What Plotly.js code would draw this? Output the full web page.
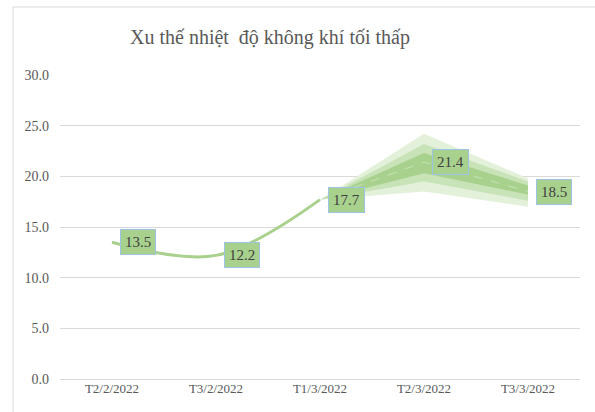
<!DOCTYPE html>
<html><head><meta charset="utf-8">
<script src="https://cdn.plot.ly/plotly-3.0.1.min.js"></script>
<style>html,body{margin:0;padding:0;background:#fff}#c{width:595px;height:412px}</style>
</head><body><div id="c"></div>
<script>
const categories = ['T2/2/2022','T3/2/2022','T1/3/2022','T2/3/2022','T3/3/2022'];
const values = [13.5, 12.2, 17.7, 21.4, 18.5];
const labels = ['13.5','12.2','17.7','21.4','18.5'];
const forecastCats = ['T1/3/2022','T2/3/2022','T3/3/2022'];
const forecastMid = [17.7, 21.4, 18.5];
const outerUpper = [17.7, 24.2, 19.8];
const outerLower = [17.7, 18.5, 17.0];
const midUpper = [17.7, 23.2, 19.5];
const midLower = [17.7, 19.5, 17.6];
const innerUpper = [17.7, 22.3, 19.1];
const innerLower = [17.7, 20.3, 18.2];
const histCats = categories.slice(0,3);
const histVals = values.slice(0,3);

const font = '"Liberation Serif", serif';
function band(up, lo, color){
  return [
    {x: forecastCats, y: up, type:'scatter', mode:'lines', line:{width:0, color:color}, hoverinfo:'skip', showlegend:false},
    {x: forecastCats, y: lo, type:'scatter', mode:'lines', line:{width:0, color:color}, fill:'tonexty', fillcolor:color, hoverinfo:'skip', showlegend:false}
  ];
}
const traces = [
  ...band(outerUpper, outerLower, '#e3f0da'),
  ...band(midUpper, midLower, '#c9e3b8'),
  ...band(innerUpper, innerLower, '#a9d18e'),
  {x: forecastCats, y: forecastMid, type:'scatter', mode:'lines', line:{width:1, color:'rgba(255,255,255,0.35)', dash:'dash'}, showlegend:false},
  {x: histCats, y: histVals, type:'scatter', mode:'lines', line:{width:3, color:'#a9d18e', shape:'spline', smoothing:1}, showlegend:false}
];
const annotations = categories.map((c,i)=>({
  x: c, y: values[i], xref:'x', yref:'y', text: labels[i], showarrow:false,
  xshift: 26, xanchor:'center', yanchor:'middle',
  bgcolor:'#a9d18e', bordercolor:'#9dc3e6', borderwidth:1, borderpad:4,
  font:{family:font, size:15, color:'#404040'}
}));
const layout = {
  width:595, height:412,
  margin:{l:60, r:15, t:75, b:33},
  paper_bgcolor:'#fff', plot_bgcolor:'#fff',
  font:{family:font},
  title:{text:'Xu thế nhiệt  độ không khí tối thấp', font:{family:font, size:20, color:'#595959'}, x:270/595, xref:'container', xanchor:'center', y:1-37/412, yref:'container', yanchor:'middle'},
  xaxis:{type:'category', categoryarray:categories, tickfont:{family:font, size:13, color:'#595959'}, showgrid:false, showline:false, ticks:'', zeroline:false, range:[-0.5,4.5]},
  yaxis:{range:[0,30], dtick:5, tickformat:'.1f', tickfont:{family:font, size:14, color:'#595959'}, gridcolor:'#d9d9d9', gridwidth:1, zeroline:true, zerolinecolor:'#d9d9d9', zerolinewidth:1, showline:false, ticks:'', ticklabelstandoff:10},
  annotations: annotations,
  shapes:[
    {type:'line', xref:'paper', yref:'paper', x0:(13-60)/520, x1:(13-60)/520, y0:(379-7)/304, y1:(379-415)/304, line:{color:'#d9d9d9', width:1}},
    {type:'line', xref:'paper', yref:'paper', x0:(13-60)/520, x1:(600-60)/520, y0:(379-7)/304, y1:(379-7)/304, line:{color:'#d9d9d9', width:1}}
  ]
};
Plotly.newPlot('c', traces, layout, {displayModeBar:false, staticPlot:true});
</script></body></html>
